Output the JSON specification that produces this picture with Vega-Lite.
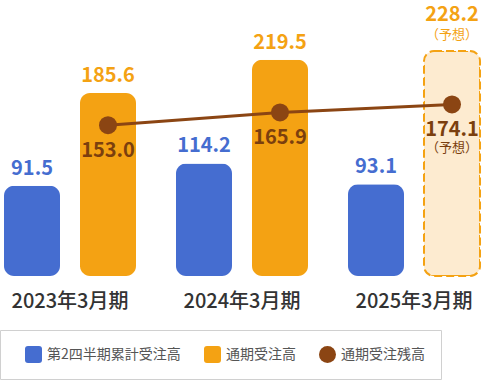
{
  "$schema": "https://vega.github.io/schema/vega-lite/v6.json",
  "width": 484,
  "height": 276,
  "padding": {"left": 0, "top": 0, "right": 0, "bottom": 104},
  "autosize": {"type": "none"},
  "config": {"view": {"stroke": null}, "font": "Noto Sans CJK JP"},
  "data": {
    "values": [
      {"year": "2023年3月期", "series": "第2四半期累計受注高", "value": 91.5, "forecast": false},
      {"year": "2023年3月期", "series": "通期受注高", "value": 185.6, "forecast": false},
      {"year": "2023年3月期", "series": "通期受注残高", "value": 153.0, "forecast": false},
      {"year": "2024年3月期", "series": "第2四半期累計受注高", "value": 114.2, "forecast": false},
      {"year": "2024年3月期", "series": "通期受注高", "value": 219.5, "forecast": false},
      {"year": "2024年3月期", "series": "通期受注残高", "value": 165.9, "forecast": false},
      {"year": "2025年3月期", "series": "第2四半期累計受注高", "value": 93.1, "forecast": false},
      {"year": "2025年3月期", "series": "通期受注高", "value": 228.2, "forecast": true},
      {"year": "2025年3月期", "series": "通期受注残高", "value": 174.1, "forecast": true}
    ]
  },
  "encoding": {
    "x": {
      "field": "year", "type": "nominal", "sort": null,
      "scale": {"range": [-16, 500], "paddingInner": 0, "paddingOuter": 0},
      "axis": {"title": null, "domain": false, "ticks": false, "labelAngle": 0, "labelFontSize": 20, "labelFontWeight": 500, "labelColor": "#333333", "labelPadding": 15, "labelFont": "Noto Sans CJK JP"}
    },
    "y": {"field": "value", "type": "quantitative", "scale": {"domain": [0, 280]}, "axis": null}
  },
  "layer": [
    {
      "transform": [{"filter": "datum.series !== '通期受注残高' && !datum.forecast"}],
      "mark": {"type": "bar", "cornerRadius": 10},
      "encoding": {
        "xOffset": {"field": "series", "type": "nominal", "scale": {"domain": ["第2四半期累計受注高", "通期受注高"], "paddingInner": 0.263, "paddingOuter": 0.263}},
        "color": {
          "field": "series", "type": "nominal",
          "scale": {"domain": ["第2四半期累計受注高", "通期受注高", "通期受注残高"], "range": ["#456dd0", "#f4a213", "#8b4513"]},
          "legend": {"title": null, "orient": "none", "legendX": 0, "legendY": 330, "direction": "horizontal", "strokeColor": "#d0d0d0", "padding": 16, "symbolOffset": 9, "symbolSize": 289, "labelFontSize": 14, "labelColor": "#555555", "labelFont": "Noto Sans CJK JP", "columnPadding": 14, "labelOffset": 5, "symbolStrokeWidth": 0, "symbolOpacity": 1}
        }
      }
    },
    {
      "transform": [{"filter": "datum.series === '通期受注高' && datum.forecast"}],
      "mark": {"type": "bar", "cornerRadius": 10, "fill": "#fdebd0", "stroke": "#f4a213", "strokeWidth": 2, "strokeDash": [8, 4]},
      "encoding": {
        "xOffset": {"field": "series", "type": "nominal"}
      }
    },
    {
      "transform": [{"filter": "datum.series !== '通期受注残高' && !datum.forecast"}],
      "mark": {"type": "text", "dy": -17, "baseline": "middle", "fontSize": 20, "fontWeight": "bold", "font": "Noto Sans CJK JP"},
      "encoding": {
        "xOffset": {"field": "series", "type": "nominal"},
        "text": {"field": "value", "type": "quantitative", "format": ".1f"},
        "color": {"condition": {"test": "datum.series === '通期受注高'", "value": "#f4a213"}, "value": "#456dd0"}
      }
    },
    {
      "transform": [{"filter": "datum.series === '通期受注高' && datum.forecast"}],
      "mark": {"type": "text", "dy": -36, "baseline": "middle", "fontSize": 20, "fontWeight": "bold", "font": "Noto Sans CJK JP", "color": "#f4a213"},
      "encoding": {
        "xOffset": {"field": "series", "type": "nominal"},
        "text": {"field": "value", "type": "quantitative", "format": ".1f"}
      }
    },
    {
      "transform": [{"filter": "datum.series === '通期受注高' && datum.forecast"}],
      "mark": {"type": "text", "dy": -16, "baseline": "middle", "fontSize": 13, "font": "Noto Sans CJK JP", "color": "#f4a213"},
      "encoding": {
        "xOffset": {"field": "series", "type": "nominal"},
        "text": {"value": "（予想）"}
      }
    },
    {
      "transform": [{"filter": "datum.series === '通期受注残高'"}],
      "mark": {"type": "line", "color": "#8b4513", "strokeWidth": 3},
      "encoding": {
        "xOffset": {"datum": "通期受注高"}
      }
    },
    {
      "transform": [{"filter": "datum.series === '通期受注残高'"}],
      "mark": {"type": "point", "filled": true, "size": 324, "opacity": 1},
      "encoding": {
        "xOffset": {"datum": "通期受注高"},
        "color": {"field": "series", "type": "nominal"},
        "shape": {
          "field": "series", "type": "nominal",
          "scale": {"domain": ["第2四半期累計受注高", "通期受注高", "通期受注残高"], "range": ["M-0.65,-1H0.65Q1,-1 1,-0.65V0.65Q1,1 0.65,1H-0.65Q-1,1 -1,0.65V-0.65Q-1,-1 -0.65,-1Z", "M-0.65,-1H0.65Q1,-1 1,-0.65V0.65Q1,1 0.65,1H-0.65Q-1,1 -1,0.65V-0.65Q-1,-1 -0.65,-1Z", "circle"]},
          "legend": {"title": null, "orient": "none", "legendX": 0, "legendY": 330, "direction": "horizontal", "strokeColor": "#d0d0d0", "padding": 16, "symbolOffset": 9, "symbolSize": 289, "labelFontSize": 14, "labelColor": "#555555", "labelFont": "Noto Sans CJK JP", "columnPadding": 14, "labelOffset": 5, "symbolStrokeWidth": 0, "symbolOpacity": 1}
        }
      }
    },
    {
      "transform": [{"filter": "datum.series === '通期受注残高'"}],
      "mark": {"type": "text", "dy": 26, "baseline": "middle", "fontSize": 20, "fontWeight": "bold", "font": "Noto Sans CJK JP", "color": "#7b3f0e"},
      "encoding": {
        "xOffset": {"datum": "通期受注高"},
        "text": {"field": "value", "type": "quantitative", "format": ".1f"}
      }
    },
    {
      "transform": [{"filter": "datum.series === '通期受注残高' && datum.forecast"}],
      "mark": {"type": "text", "dy": 44, "baseline": "middle", "fontSize": 13, "font": "Noto Sans CJK JP", "color": "#7b3f0e"},
      "encoding": {
        "xOffset": {"datum": "通期受注高"},
        "text": {"value": "（予想）"}
      }
    }
  ]
}
